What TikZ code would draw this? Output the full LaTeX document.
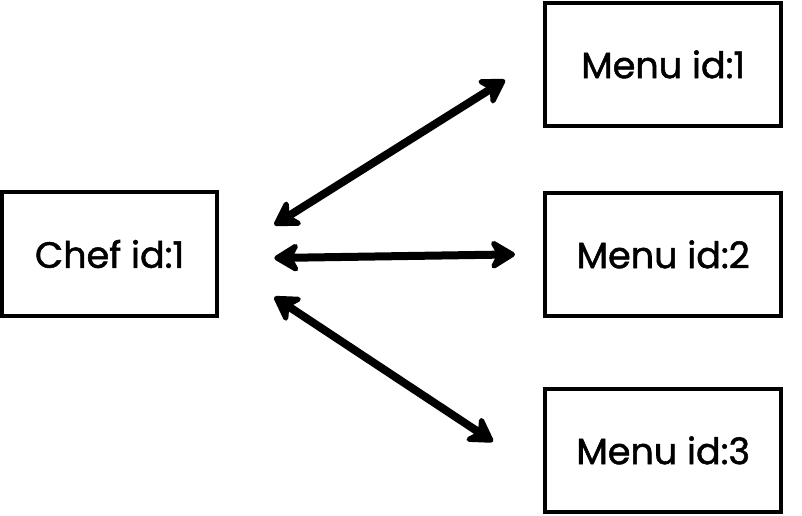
\documentclass[tikz,border=0pt]{standalone}
\usepackage{fontspec}
\setmainfont{Poppins}[UprightFeatures={FakeBold=1.4}]
\usetikzlibrary{arrows.meta}
\tikzset{
    entity/.style={draw=black, line width=1.1mm, minimum width=#1, minimum height=3.08cm, inner sep=0pt, font=\fontsize{26}{30}\selectfont},
    link/.style={line width=2mm, {Stealth[length=7.5mm, width=9mm, inset=2.4mm, round]}-{Stealth[length=7.5mm, width=9mm, inset=2.4mm, round]}}
}

\begin{document}
\begin{tikzpicture}
    \useasboundingbox (0,0) rectangle (20.05,-12.9);
    % boxes
    \node [entity=5.375cm, minimum height=3.1cm] (chef) at (2.74,-6.35) {Chef id:1};
    \node [entity=5.9cm] (menuA) at (16.58,-1.61) {Menu id:1};
    \node [entity=5.9cm] (menuB) at (16.58,-6.36) {Menu id:2};
    \node [entity=5.9cm] (menuC) at (16.58,-11.26) {Menu id:3};
    % links
    \draw [link] ([shift={(1.375,0.725)}]chef.east) -- ([shift={(-0.95,-0.39)}]menuA.west);
    \draw [link] ([shift={(1.375,-0.1)}]chef.east) -- ([shift={(-0.7,0)}]menuB.west);
    \draw [link] ([shift={(1.375,-1.075)}]chef.east) -- ([shift={(-1.25,0.22)}]menuC.west);
\end{tikzpicture}
\end{document}
